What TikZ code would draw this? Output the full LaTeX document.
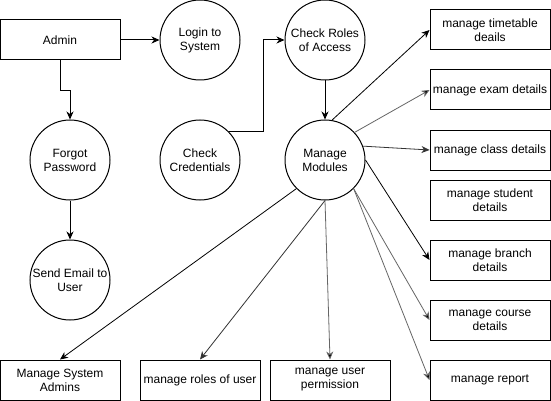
\documentclass[tikz,border=0pt]{standalone}
\usepackage{fontspec}
\setmainfont{Liberation Sans}
\usetikzlibrary{arrows.meta}
\begin{document}
\begin{tikzpicture}[x=1pt,y=-1pt,
  every node/.style={font=\fontsize{12}{14}\selectfont, align=center, inner sep=0pt},
  proc/.style={draw, circle, minimum size=80pt, line width=1pt},
  ent/.style={draw, rectangle, minimum width=120pt, minimum height=40pt, line width=1pt},
  flow/.style={-{Stealth[length=8pt,width=7pt,inset=2.5pt]}, line width=1pt},
  thin flow/.style={flow, line width=0.8pt},
  grey flow/.style={flow, line width=0.8pt, draw=black!60, -{Stealth[length=8pt,width=7pt,inset=2.5pt,fill=black]}}]
\fill[white] (0,0) rectangle (551,401);
\useasboundingbox (0,0) rectangle (551,401);
% nodes
\node[ent] (admin) at (60,40) {Admin};
\node[proc] (login) at (200,40) {Login to\\System};
\node[proc] (forgot) at (70,160) {Forgot\\Password};
\node[proc] (email) at (70,280) {Send Email to\\User};
\node[proc] (cred) at (200,160) {Check\\Credentials};
\node[proc] (roles) at (325,40) {Check Roles\\of Access};
\node[proc] (mm) at (325,160) {Manage\\Modules};
\node[ent] (tt) at (490,30) {manage timetable\\deails};
\node[ent] (exam) at (490,90) {manage exam details};
\node[ent] (class) at (490,150) {manage class details};
\node[ent] (student) at (490,200) {manage student\\details};
\node[ent] (branch) at (490,260) {manage branch\\details};
\node[ent] (course) at (490,320) {manage course\\details};
\node[ent] (report) at (490,380) {manage report};
\node[ent] (sysadm) at (60,380) {Manage System\\Admins};
\node[ent] (rolesuser) at (200,380) {manage roles of user};
\node[ent] (perm) at (330,380) {manage user\\permission};
\coordinate (bend) at (263,40);
% edges
\draw[flow] (admin.east) -- (login.west);
\draw[flow] (admin.south) -- ++(0,30) -| (forgot.north);
\draw[flow] (forgot) -- (email);
\draw[flow] (cred.45) -| (bend) -- (roles.west);
\draw[flow] (roles) -- (mm);
\draw[thin flow] (mm.80) -- (tt.west);
\draw[grey flow] (mm.43) -- (exam.west);
\draw[thin flow, draw=black!80] (mm.20) -- (class.west);
\draw[thin flow] (mm.east) -- (branch.west);
\draw[grey flow] (mm.-45) -- (course.west);
\draw[grey flow] (mm.-45) -- (report.west);
\draw[grey flow] (mm.south) -- (perm.north);
\draw[thin flow, draw=black!80] (mm.south) -- (rolesuser.north);
\draw[thin flow] (mm.225) -- (sysadm.north);
\end{tikzpicture}
\end{document}
